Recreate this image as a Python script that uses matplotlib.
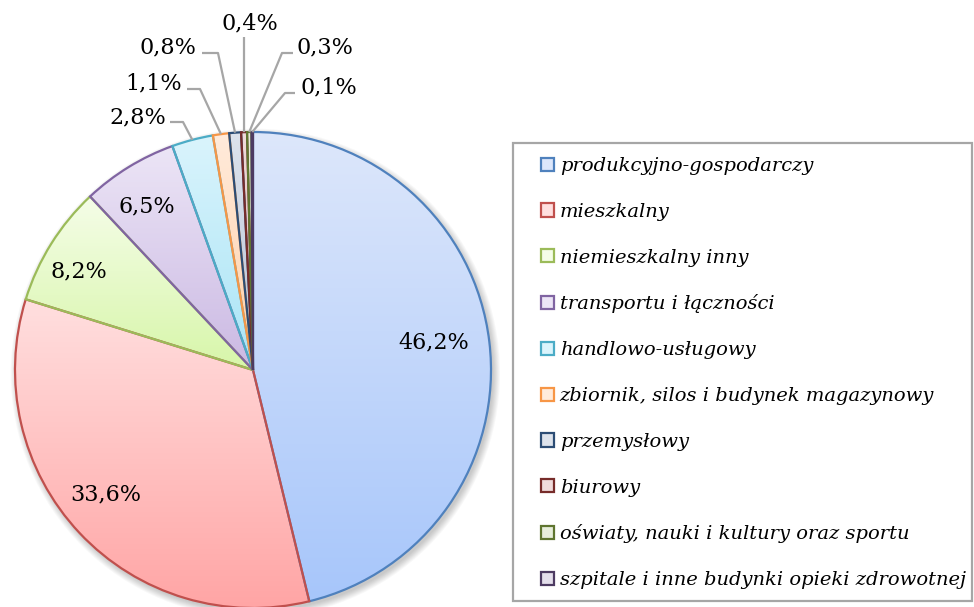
import numpy as np
import matplotlib
matplotlib.use("Agg")
import matplotlib.pyplot as plt
from matplotlib.colors import LinearSegmentedColormap
from matplotlib.patches import Rectangle, Circle

# ---------------- data ----------------
categories = [
    "produkcyjno-gospodarczy",
    "mieszkalny",
    "niemieszkalny inny",
    "transportu i łączności",
    "handlowo-usługowy",
    "zbiornik, silos i budynek magazynowy",
    "przemysłowy",
    "biurowy",
    "oświaty, nauki i kultury oraz sportu",
    "szpitale i inne budynki opieki zdrowotnej",
]
shares = [46.2, 33.6, 8.2, 6.5, 2.8, 1.1, 0.8, 0.4, 0.3, 0.1]
labels = ["46,2%", "33,6%", "8,2%", "6,5%", "2,8%", "1,1%", "0,8%", "0,4%", "0,3%", "0,1%"]

# ---------------- style ----------------
edge_colors = ['#4F81BD', '#C0504D', '#9BBB59', '#8064A2', '#4BACC6',
               '#F79646', '#2C4D75', '#772C2A', '#5F7530', '#4D3B62']
grad_top = ['#DDE7FB', '#FFDFDF', '#F5FDE8', '#ECE5F6', '#DAF4FC',
            '#FFEBDB', '#DDE3EC', '#F0DCDC', '#E8EEDC', '#E4DFEB']
grad_bot = ['#A7C6FA', '#FFA5A5', '#D7F6A9', '#CBB9E3', '#A9E4F6',
            '#FFD0A8', '#B6C2D6', '#D6AAAA', '#C6D5A8', '#BDB3CC']

FONT = 'DejaVu Serif'
LABEL_SIZE = 16
W, H = 974, 607
CX, CY, R = 253, 370, 238   # pie centre / radius in pixels


def px(x, y):
    """pixel position -> data coordinates of the pie axes"""
    return (x - CX) / R, (CY - y) / R


fig = plt.figure(figsize=(W / 100, H / 100), dpi=100)
ax = fig.add_axes([0, 0, 1, 1])

# soft shadow
for i in range(8):
    ax.add_patch(Circle((0.010, -0.014), 1.0 + 0.004 * i, facecolor='black',
                        edgecolor='none', alpha=0.028, zorder=0))

wedges, _ = ax.pie(shares, startangle=90, counterclock=False, radius=1,
                   colors=grad_top,
                   wedgeprops=dict(linewidth=1.6, zorder=2))
for w, ec in zip(wedges, edge_colors):
    w.set_edgecolor(ec)

# gradient fills clipped to each wedge
grad = np.linspace(0, 1, 256).reshape(-1, 1)
for w, t, b in zip(wedges, grad_top, grad_bot):
    ext = w.get_path().get_extents()
    cmap = LinearSegmentedColormap.from_list('g', [t, b])
    im = ax.imshow(grad, extent=[ext.x0, ext.x1, ext.y0, ext.y1], origin='upper',
                   cmap=cmap, aspect='auto', interpolation='bilinear', zorder=1.5)
    im.set_clip_path(w)
    w.set_facecolor('none')

ax.set_xlim(-CX / R, (W - CX) / R)
ax.set_ylim((CY - H) / R, CY / R)
ax.set_aspect('auto')
ax.axis('off')

# ---------------- data labels ----------------
cum = np.cumsum([0] + shares[:-1])
mid_angles = np.deg2rad(90 - (cum + np.array(shares) / 2) * 3.6)

inner_r = [0.77, 0.81, 0.84, 0.82]
inner_rot = [1.7, -3.0, 2.5, 1.4]   # small angular adjustments (deg)
for i in range(4):
    a = mid_angles[i] + np.deg2rad(inner_rot[i])
    ax.text(inner_r[i] * np.cos(a), inner_r[i] * np.sin(a), labels[i],
            ha='center', va='center', fontsize=LABEL_SIZE, family=FONT, zorder=5)

# outside labels: text anchor, alignment, line start, elbow (pixels)
out_text = {4: ((166, 117), 'right'), 5: ((182, 83), 'right'), 6: ((196, 47), 'right'),
            7: ((250, 23), 'center'), 8: ((297, 47), 'left'), 9: ((301, 87), 'left')}
out_line = {4: [(170, 122), (183, 122)], 5: [(187, 89), (200, 89)],
            6: [(202, 53), (218, 53)], 7: [(244, 37), (244, 37)],
            8: [(293, 53), (282, 53)], 9: [(295, 93), (285, 93)]}
for i, ((tx, ty), ha) in out_text.items():
    x, y = px(tx, ty)
    ax.text(x, y, labels[i], ha=ha, va='center', fontsize=LABEL_SIZE, family=FONT, zorder=5)
    pts = [px(*p) for p in out_line[i]]
    pts.append((np.cos(mid_angles[i]), np.sin(mid_angles[i])))
    xs, ys = zip(*pts)
    ax.plot(xs, ys, color='#A6A6A6', lw=1.6, zorder=4, solid_capstyle='butt')

# ---------------- legend ----------------
handles = [Rectangle((0, 0), 1, 1, facecolor=t, edgecolor=e, linewidth=1.6)
           for t, e in zip(grad_top, edge_colors)]
leg = fig.legend(handles, categories, loc='upper left',
                 bbox_to_anchor=(541 / W, 1 - 157 / H), frameon=False,
                 prop=dict(family=FONT, style='italic', size=14),
                 handlelength=0.66, handleheight=0.66, handletextpad=0.3,
                 labelspacing=1.43, borderpad=0, borderaxespad=0)

fig.patches.append(Rectangle((513 / W, 1 - 601 / H), (972 - 513) / W, (601 - 143) / H,
                             transform=fig.transFigure, fill=False,
                             edgecolor='#A6A6A6', linewidth=1.6))

fig.savefig('out.png', dpi=100)
